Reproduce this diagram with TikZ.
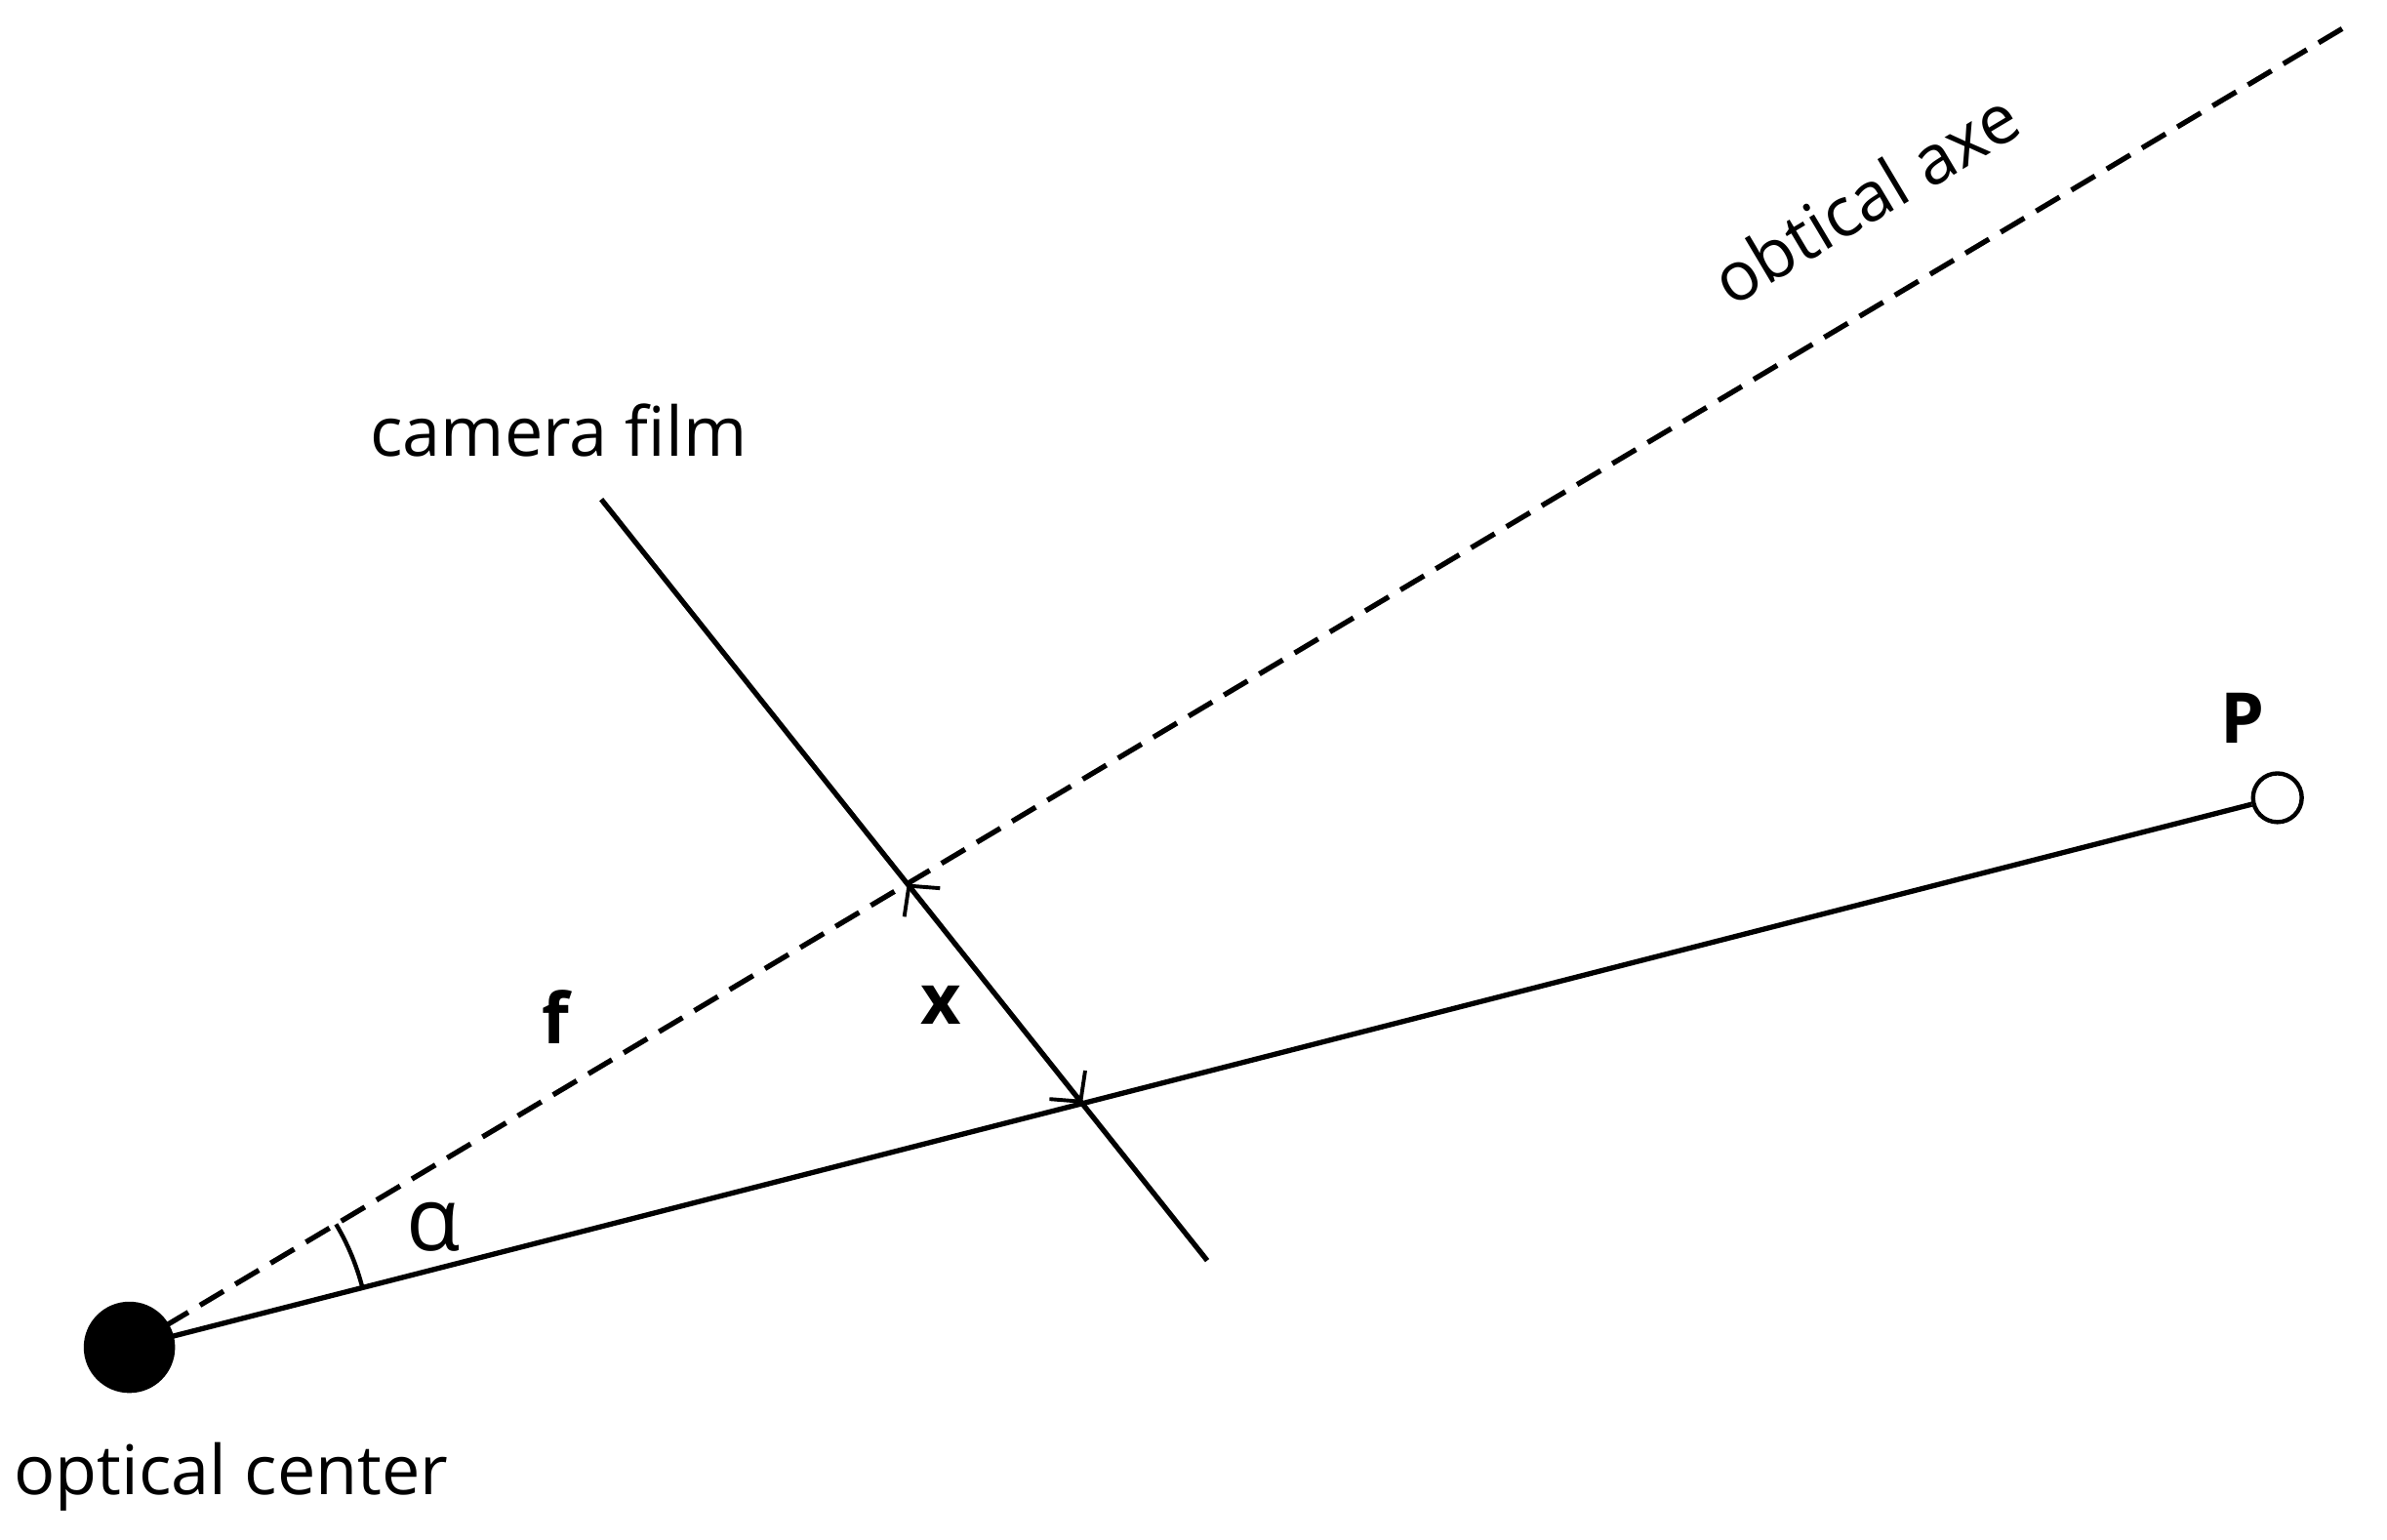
\documentclass[tikz,border=0pt]{standalone}
\usepackage{fontspec}
\setmainfont{Open Sans}
\usetikzlibrary{calc,intersections,arrows.meta}
\begin{document}
\begin{tikzpicture}[x=1pt,y=-1pt,line width=3.4pt,
  lab/.style={font=\fontsize{45}{52}\selectfont,inner sep=0pt},
  blab/.style={font=\bfseries\fontsize{46}{54}\selectfont,inner sep=0pt},
  >={Straight Barb[length=14pt,width=30pt,line width=2.5pt]}]
\useasboundingbox (0,0) rectangle (1568,1011);
\coordinate (O) at (85,885);
\coordinate (A) at (1545,15);
\coordinate (F1) at (395,328);
\coordinate (F2) at (793,828);
\node[circle,draw,line width=2.8pt,minimum size=32pt,inner sep=0pt] (P) at (1496,524) {};
\path[name path=ax] (O) -- (A);
\path[name path=ray] (O) -- (P.center);
\path[name path=film] (F1) -- (F2);
\path[name intersections={of=ax and film,by=I1}];
\path[name intersections={of=ray and film,by=I2}];
\draw[dashed,dash pattern=on 18pt off 9pt] (O) -- (A);
\draw (O) -- (P);
\draw (F1) -- (F2);
\draw[line width=2.5pt,<->] (I1) -- (I2);
\draw[line width=2.8pt] ($(O)!158pt!(A)$) arc[start angle=30.8,end angle=14.4,radius=158pt];
\fill (O) circle (30pt);
\node[lab] (oc) at (152,970) {optical center};
\node[lab] (cf) at (367,283) {camera film};
\node[lab,rotate=30.8] (oa) at (1225,130) {obtical axe};
\node[blab] (pl) at (1473,472) {P};
\node[blab] (fl) at (365,668) {f};
\node[blab] (xl) at (618,660) {x};
\node[font=\fontsize{58}{64}\selectfont,inner sep=0pt] (al) at (285,806) {α};
\end{tikzpicture}
\end{document}
